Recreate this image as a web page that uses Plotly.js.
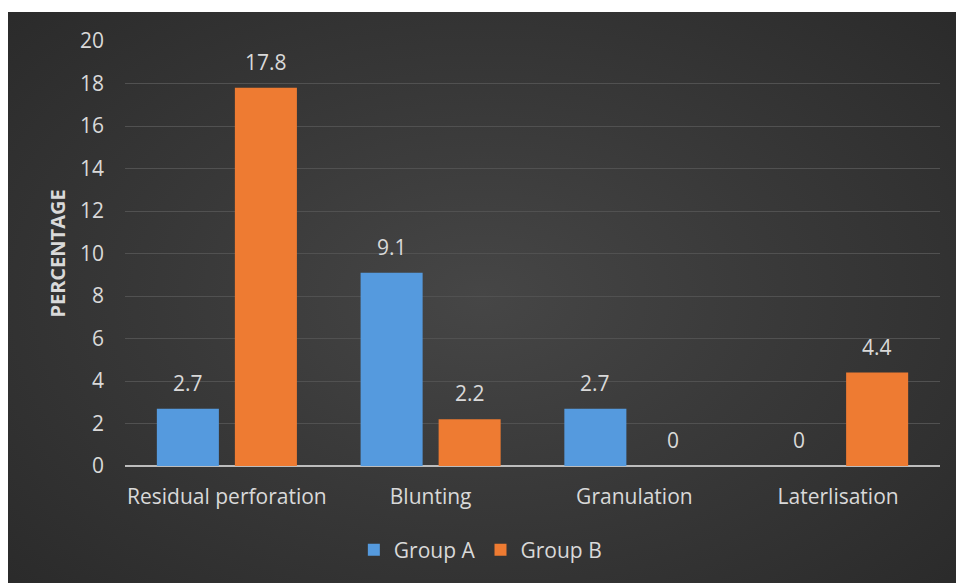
<!DOCTYPE html>
<html>
<head>
<meta charset="utf-8">
<script src="https://cdn.plot.ly/plotly-3.0.1.min.js"></script>
<style>
  html, body { margin: 0; padding: 0; background: #ffffff; width: 956px; height: 583px; overflow: hidden; }
  #chart {
    position: absolute; left: 8px; top: 12px; width: 948px; height: 571px;
    background: radial-gradient(ellipse 70% 75% at 50% 50%, #464646 0%, #393939 45%, #2a2a2a 100%);
  }
</style>
</head>
<body>
<div id="chart"></div>
<script>
const categories = ["Residual perforation", "Blunting", "Granulation", "Laterlisation"];
const groupA = [2.7, 9.1, 2.7, 0];
const groupB = [17.8, 2.2, 0, 4.4];
const yTicks = [0, 2, 4, 6, 8, 10, 12, 14, 16, 18, 20];

const labelFont = { family: "Open Sans, sans-serif", size: 21, color: "#d9d9d9" };

const traces = [
  { type: "bar", name: "Group A", x: categories, y: groupA, marker: { color: "#559ade" } },
  { type: "bar", name: "Group B", x: categories, y: groupB, marker: { color: "#ee7b32" } }
];

// value labels, placed through the axes (data coordinates)
const annotations = [];
[[groupA, -39], [groupB, 39]].forEach(([vals, dx]) => {
  vals.forEach((v, i) => {
    annotations.push({
      x: categories[i], y: v, xref: "x", yref: "y",
      text: String(v), showarrow: false,
      xshift: dx, yshift: 26, yanchor: "middle",
      font: labelFont
    });
  });
});

const layout = {
  width: 948, height: 571,
  margin: { l: 117, r: 16, t: 29, b: 117, autoexpand: false },
  paper_bgcolor: "rgba(0,0,0,0)",
  plot_bgcolor: "rgba(0,0,0,0)",
  barmode: "group",
  bargap: 0.234,
  bargroupgap: 0.205,
  font: labelFont,
  annotations: annotations,
  xaxis: {
    tickfont: labelFont,
    tickangle: 0,
    automargin: false,
    showgrid: false,
    showline: false,
    zeroline: false,
    ticks: "",
    ticklabelstandoff: 16
  },
  yaxis: {
    range: [0, 20],
    automargin: false,
    tickvals: yTicks,
    ticktext: yTicks.map(String),
    tickfont: labelFont,
    showgrid: true,
    gridcolor: "#515151",
    gridwidth: 1,
    zeroline: true,
    zerolinecolor: "#bdbdbd",
    zerolinewidth: 2,
    showline: false,
    ticks: "",
    ticklabelstandoff: 20,
    title: {
      text: "PERCENTAGE",
      font: { family: "Open Sans, sans-serif", size: 20, color: "#d9d9d9", weight: "bold" },
      standoff: 8
    }
  },
  showlegend: true,
  legend: {
    orientation: "h",
    x: 0.436, xanchor: "center",
    y: -0.198, yanchor: "middle",
    font: labelFont,
    bgcolor: "rgba(0,0,0,0)",
    itemwidth: 30
  }
};

Plotly.newPlot("chart", traces, layout, { displayModeBar: false, staticPlot: true });
</script>
</body>
</html>
